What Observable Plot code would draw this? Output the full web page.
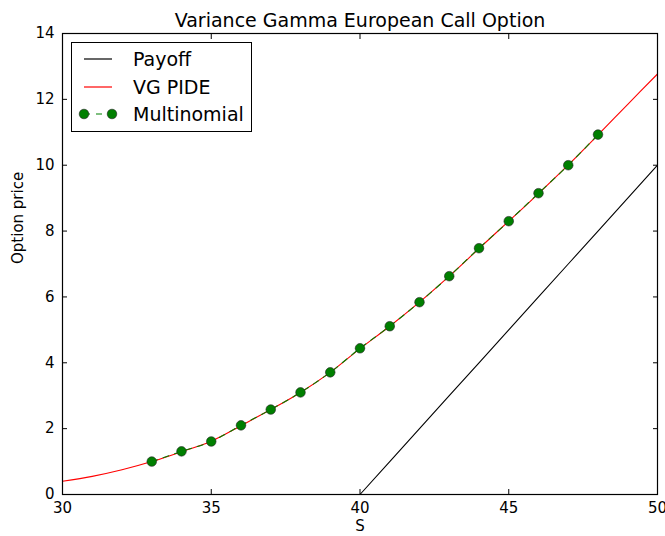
<!DOCTYPE html>
<html><head><meta charset="utf-8">
<script src="https://cdn.jsdelivr.net/npm/d3@7"></script>
<script src="https://cdn.jsdelivr.net/npm/@observablehq/plot@0.6"></script>
<style>
body{margin:0;background:#fff;font-family:"DejaVu Sans",sans-serif;}
#wrap{position:relative;width:665px;height:536px;}
#legend{position:absolute;left:71px;top:42px;width:181px;height:90px;border:1px solid #000;background:#fff;box-sizing:border-box;font-size:19px;}
.row{position:absolute;left:0;height:22px;display:flex;align-items:center;}
.row span{position:absolute;left:61px;white-space:nowrap;}
</style>
</head><body>
<div id="wrap"></div>
<script>
const S_grid = [30,31,32,33,34,35,36,37,38,39,40,41,42,43,44,45,46,47,48,49,50];
const pide = [0.40,0.55,0.75,1.00,1.30,1.62,2.09,2.58,3.10,3.71,4.43,5.11,5.84,6.63,7.47,8.30,9.14,10.01,10.92,11.85,12.77];
const S_mult = [33,34,35,36,37,38,39,40,41,42,43,44,45,46,47,48];
const mult = [1.00,1.31,1.61,2.10,2.58,3.10,3.71,4.44,5.11,5.84,6.63,7.48,8.30,9.15,10.00,10.93];
const strike = 40;
const xTicks = [30,35,40,45,50];
const yTicks = [0,2,4,6,8,10,12,14];

const payoffData = S_grid.map(s => ({S: s, v: Math.max(s - strike, 0)}));
const pideData = S_grid.map((s,i) => ({S: s, v: pide[i]}));
const multData = S_mult.map((s,i) => ({S: s, v: mult[i]}));

const chart = Plot.plot({
  width: 665, height: 536,
  marginLeft: 62, marginRight: 8, marginTop: 33, marginBottom: 42,
  style: {fontFamily: "DejaVu Sans", fontSize: "15px", color: "#000", background: "#fff"},
  x: {domain: [30, 50]},
  y: {domain: [0, 14]},
  marks: [
    Plot.line(payoffData, {x: "S", y: "v", stroke: "#000", strokeWidth: 1.1}),
    Plot.line(pideData, {x: "S", y: "v", stroke: "#ff0000", strokeWidth: 1.1, curve: "catmull-rom"}),
    Plot.line(multData, {x: "S", y: "v", stroke: "#008000", strokeWidth: 1.1, strokeDasharray: "6,6", curve: "catmull-rom"}),
    Plot.dot(multData, {x: "S", y: "v", r: 4.8, fill: "#007f00", stroke: "#222", strokeWidth: 0.6}),
    Plot.frame({stroke: "#000", strokeWidth: 1.2}),
    Plot.axisX(xTicks, {anchor: "bottom", tickSize: -5, tickPadding: 13, fontSize: 15, label: null}),
    Plot.axisX(xTicks, {anchor: "top", tickSize: -5, tickFormat: () => "", label: null}),
    Plot.axisY(yTicks, {anchor: "left", tickSize: -5, tickPadding: 13, fontSize: 15, label: null}),
    Plot.axisY(yTicks, {anchor: "right", tickSize: -5, tickFormat: () => "", label: null}),
    Plot.text(["S"], {frameAnchor: "bottom", dy: 36, fontSize: 15}),
    Plot.text(["Option price"], {frameAnchor: "left", dx: -44, rotate: -90, fontSize: 15}),
    Plot.text(["Variance Gamma European Call Option"], {frameAnchor: "top", dy: -20, fontSize: 19})
  ]
});
const wrap = document.getElementById("wrap");
wrap.appendChild(chart);

const legendItems = [
  {label: "Payoff", color: "#000", dash: null, marker: false},
  {label: "VG PIDE", color: "#ff0000", dash: null, marker: false},
  {label: "Multinomial", color: "#008000", dash: "6,6", marker: true}
];
const lg = document.createElement("div");
lg.id = "legend";
legendItems.forEach((it, i) => {
  const row = document.createElement("div");
  row.className = "row";
  row.style.top = (5 + i * 27.5) + "px";
  const svg = d3.create("svg").attr("width", 50).attr("height", 22);
  svg.append("line").attr("x1", 12).attr("x2", 40).attr("y1", 11).attr("y2", 11)
    .attr("stroke", it.color).attr("stroke-width", 1.2).attr("stroke-dasharray", it.dash);
  if (it.marker) {
    [12, 40].forEach(cx => svg.append("circle").attr("cx", cx).attr("cy", 11).attr("r", 4.8)
      .attr("fill", "#007f00").attr("stroke", "#222").attr("stroke-width", 0.6));
  }
  row.appendChild(svg.node());
  const sp = document.createElement("span");
  sp.textContent = it.label;
  row.appendChild(sp);
  lg.appendChild(row);
});
wrap.appendChild(lg);
</script>
</body></html>
